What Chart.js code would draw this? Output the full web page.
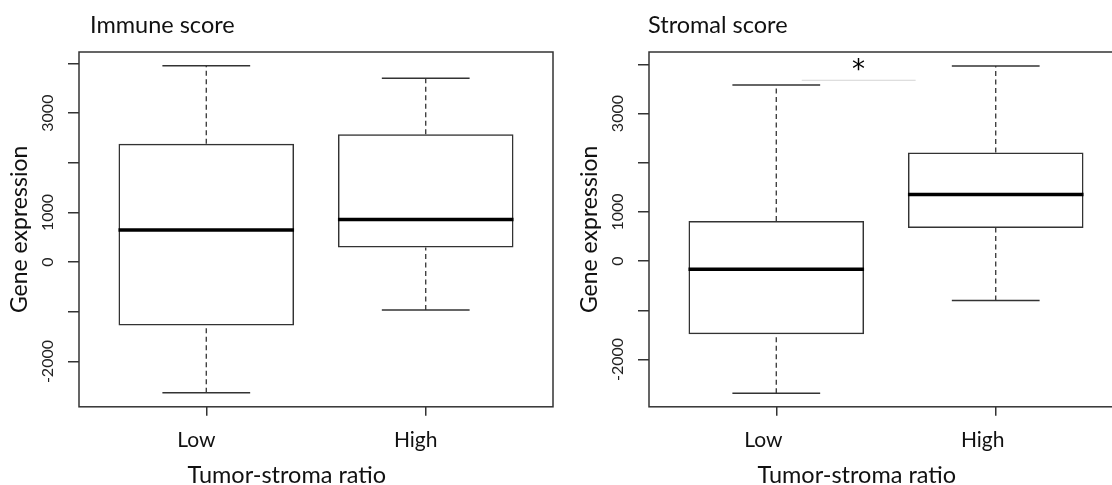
<!DOCTYPE html>
<html><head><meta charset="utf-8">
<script src="https://cdn.jsdelivr.net/npm/chart.js@4/dist/chart.umd.min.js"></script>
<style>
html,body{margin:0;padding:0;background:#fff;width:1112px;height:485px;overflow:hidden;position:relative}
canvas{position:absolute;top:0}
#c1{left:0}
#c2{left:570px}
</style></head><body>
<canvas id="c1" width="560" height="485"></canvas>
<canvas id="c2" width="560" height="485"></canvas>
<script>
// ---- data ----
const categories = ['Low', 'High'];
const panelTitles = ['Immune score', 'Stromal score'];
const xAxisTitle = 'Tumor-stroma ratio';
const yAxisTitle = 'Gene expression';

const immuneLowerWhisker = [-2630, -960];
const immuneQ1 = [-1276, 294];
const immuneMedian = [650, 857];
const immuneQ3 = [2386, 2575];
const immuneUpperWhisker = [3956, 3702];

const stromalLowerWhisker = [-2685, -801];
const stromalQ1 = [-1486, 675];
const stromalMedian = [-165, 1354];
const stromalQ3 = [817, 2207];
const stromalUpperWhisker = [3581, 3967];

const yTickValues = [-2000, -1000, 0, 1000, 2000, 3000, 4000];
const yTickLabels = ['-2000', '', '0', '1000', '', '3000', ''];

const sigLineX = [1.116, 1.635];
const sigLineY = [3677, 3677];
const sigMarkX = 1.375;
const sigMarkY = 3982;
const sigMark = '*';

// ---- drawing ----
const FONT = 'Lato';
const INK = '#333';

function halfWidth(chart, units) {
  const x = chart.scales.x;
  return x.getPixelForValue(1 + units) - x.getPixelForValue(1);
}

const framePlugin = {
  id: 'frameAndText',
  afterDraw(chart, args, opts) {
    const {ctx, chartArea: a, scales} = chart;
    ctx.save();
    ctx.strokeStyle = INK;
    ctx.lineWidth = 1.5;
    ctx.strokeRect(a.left, a.top, a.right - a.left, a.bottom - a.top);
    // panel title
    ctx.fillStyle = '#111';
    ctx.font = '23.5px ' + FONT;
    ctx.textAlign = 'left';
    ctx.textBaseline = 'alphabetic';
    ctx.fillText(opts.title, opts.titleX, 33);
    // x axis title (centred slightly left of the plot centre, as in the source)
    ctx.font = '23.5px ' + FONT;
    ctx.textAlign = 'center';
    ctx.fillText(xAxisTitle, scales.x.getPixelForValue(opts.xTitleAt), 483);
    // rotated y tick labels
    ctx.font = '16px ' + FONT;
    ctx.fillStyle = '#222';
    yTickValues.forEach((v, i) => {
      const lab = yTickLabels[i];
      if (!lab) return;
      const y = scales.y.getPixelForValue(v);
      ctx.save();
      ctx.translate(a.left - 26, y);
      ctx.rotate(-Math.PI / 2);
      ctx.textAlign = 'center';
      ctx.textBaseline = 'alphabetic';
      ctx.fillText(lab, 0, 0);
      ctx.restore();
    });
    if (opts.mark) {
      ctx.font = '26px "DejaVu Sans"';
      ctx.fillStyle = '#000';
      ctx.textAlign = 'center';
      ctx.textBaseline = 'alphabetic';
      ctx.fillText(opts.mark, scales.x.getPixelForValue(opts.markX), scales.y.getPixelForValue(opts.markY) + 13);
    }
    ctx.restore();
  }
};

function makePanel(canvas, title, titleX, labelOffset, lo, q1, med, q3, hi, yMin, yMax, sig) {
  const datasets = [];
  datasets.push({
    type: 'bar',
    data: categories.map((c, i) => ({x: i + 1, y: [q1[i], q3[i]]})),
    backgroundColor: 'rgba(255,255,255,0)',
    borderColor: INK,
    borderWidth: 1.5,
    borderSkipped: false,
    barPercentage: 0.8,
    categoryPercentage: 1,
    order: 5
  });
  categories.forEach((c, i) => {
    datasets.push({
      type: 'line',
      data: [{x: i + 1, y: q3[i]}, {x: i + 1, y: hi[i]}],
      borderColor: INK, borderWidth: 1.3, borderDash: [5, 3.5],
      pointRadius: 0, fill: false, order: 4
    });
    datasets.push({
      type: 'line',
      data: [{x: i + 1, y: lo[i]}, {x: i + 1, y: q1[i]}],
      borderColor: INK, borderWidth: 1.3, borderDash: [5, 3.5],
      pointRadius: 0, fill: false, order: 4
    });
  });
  datasets.push({
    type: 'scatter',
    data: categories.map((c, i) => ({x: i + 1, y: hi[i]})).concat(categories.map((c, i) => ({x: i + 1, y: lo[i]}))),
    pointStyle: 'line',
    radius: (ctx) => halfWidth(ctx.chart, 0.2),
    borderColor: INK, borderWidth: 1.5, order: 3
  });
  datasets.push({
    type: 'scatter',
    data: categories.map((c, i) => ({x: i + 1, y: med[i]})),
    pointStyle: 'line',
    radius: (ctx) => halfWidth(ctx.chart, 0.4),
    borderColor: '#000', borderWidth: 3.5, order: 1
  });
  if (sig) {
    datasets.push({
      type: 'line',
      data: sig.x.map((x, i) => ({x: x, y: sig.y[i]})),
      borderColor: '#d4d4d4', borderWidth: 1, pointRadius: 0, fill: false, order: 2
    });
  }
  return new Chart(canvas, {
    type: 'bar',
    data: {datasets},
    options: {
      responsive: false,
      animation: false,
      events: [],
      layout: {padding: {left: 0, top: 52, right: 7, bottom: 20}},
      plugins: {
        legend: {display: false},
        tooltip: {enabled: false},
        frameAndText: {title, titleX, xTitleAt: 1.367, mark: sig ? sigMark : null, markX: sigMarkX, markY: sigMarkY}
      },
      scales: {
        x: {
          type: 'linear', min: 0.42, max: 2.58, offset: false,
          afterBuildTicks: (s) => { s.ticks = categories.map((c, i) => ({value: i + 1})); },
          ticks: {
            callback: (v) => categories[Math.round(v) - 1],
            font: {family: FONT, size: 21}, color: '#111', padding: 12, maxRotation: 0, autoSkip: false,
            labelOffset: labelOffset
          },
          grid: {display: true, drawOnChartArea: false, offset: false, tickLength: 9, color: INK, lineWidth: 1.5},
          border: {display: false},
          title: {display: false}
        },
        y: {
          type: 'linear', min: yMin, max: yMax,
          afterBuildTicks: (s) => { s.ticks = yTickValues.map(v => ({value: v})); },
          ticks: {display: false},
          grid: {display: true, drawOnChartArea: false, tickLength: 11, color: INK, lineWidth: 1.5},
          border: {display: false},
          title: {display: true, text: yAxisTitle, font: {family: FONT, size: 23, lineHeight: 1}, color: '#111', padding: {top: 8.5, bottom: 36.5}}
        }
      }
    },
    plugins: [framePlugin]
  });
}

makePanel(document.getElementById('c1'), panelTitles[0], 90, -10,
  immuneLowerWhisker, immuneQ1, immuneMedian, immuneQ3, immuneUpperWhisker, -2911, 4231, null);
makePanel(document.getElementById('c2'), panelTitles[1], 78, -13,
  stromalLowerWhisker, stromalQ1, stromalMedian, stromalQ3, stromalUpperWhisker, -2963, 4252,
  {x: sigLineX, y: sigLineY});
</script>
</body></html>
